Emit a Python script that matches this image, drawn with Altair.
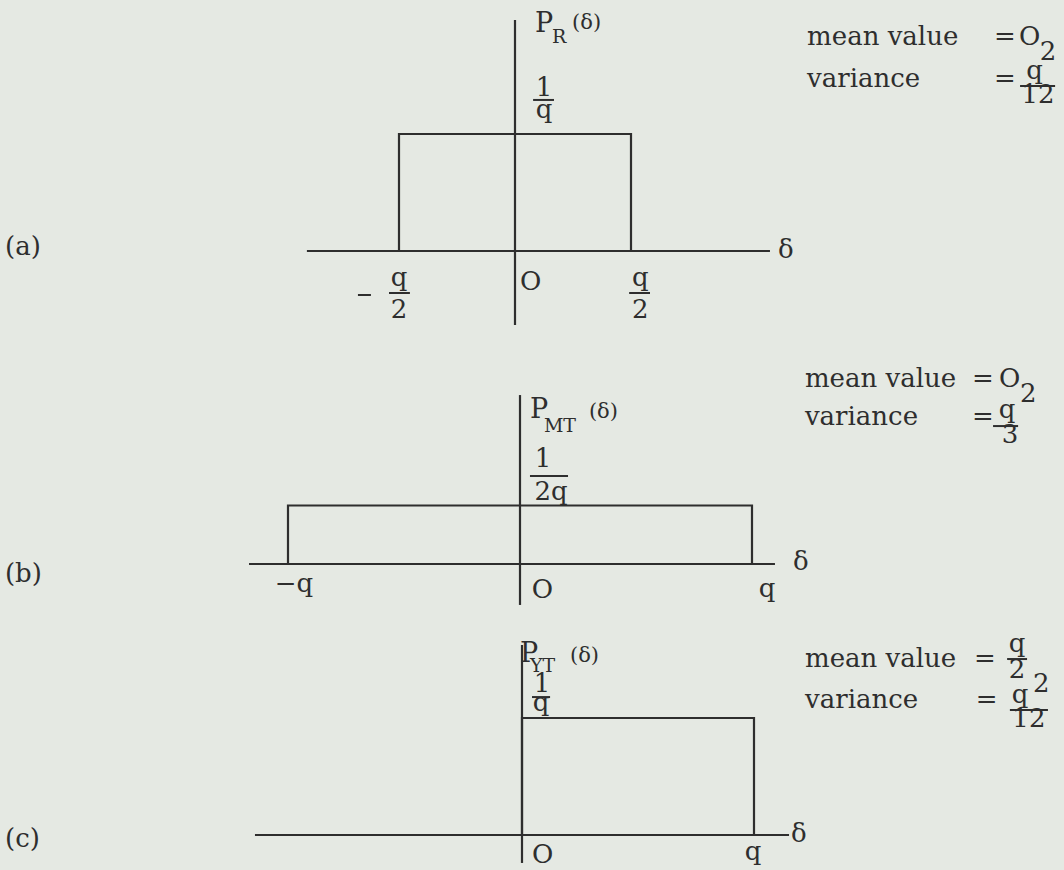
import altair as alt
import pandas as pd

# Three quantisation-error densities: rounding (R), magnitude truncation (MT)
# and value truncation (VT).  x in units of q, heights in units of 1/q.
panel_tags = ["(a)", "(b)", "(c)"]
density_names = ["R", "MT", "YT"]
support_lo = [-0.5, -1.0, 0.0]
support_hi = [0.5, 1.0, 1.0]
density_height = [1.0, 0.5, 1.0]

# tick-style labels under each horizontal axis
tick_labels_a = [("q", "2", -0.5), ("q", "2", 0.54)]
tick_labels_b = ["\u2212q", "q"]
tick_labels_c = ["q"]

# height labels beside each vertical axis
height_num = ["1", "1", "1"]
height_den = ["q", "2q", "q"]

# statistics printed to the right of each panel
mean_text = ["O", "O", None]
variance_den = ["12", "3", "12"]

INK = "#2e2e2e"
PAPER = "#e5e9e3"
FONT = "DejaVu Serif"
FS = 26          # body text size
FS_SUB = 19      # subscript size
FS_PAR = 21      # "(δ)" size

W = 1064
PX = 232.0       # pixels per q
PY = 117.0       # pixels per 1/q

# panel frame: (height, origin x in px, axis line y in px from panel top)
frames = [(345, 515, 251), (270, 520, 219), (255, 522, 220)]


def panel(idx, rules, texts):
    h, ox, oy = frames[idx]
    xs = alt.Scale(domain=[-ox / PX, (W - ox) / PX], nice=False, zero=False)
    ys = alt.Scale(domain=[-(h - oy) / PY, oy / PY], nice=False, zero=False)

    box = pd.DataFrame({
        "lo": [support_lo[idx]], "hi": [support_hi[idx]],
        "base": [0.0], "top": [density_height[idx]],
    })
    rect = alt.Chart(box).mark_rect(
        fillOpacity=0, stroke=INK, strokeWidth=2.2
    ).encode(
        x=alt.X("lo:Q", scale=xs, axis=None),
        x2="hi:Q",
        y=alt.Y("base:Q", scale=ys, axis=None),
        y2="top:Q",
    )

    rdf = pd.DataFrame(rules, columns=["x", "x2", "y", "y2", "w"])
    rule = alt.Chart(rdf).mark_rule(color=INK, strokeCap="butt").encode(
        x=alt.X("x:Q", scale=xs, axis=None),
        x2="x2:Q",
        y=alt.Y("y:Q", scale=ys, axis=None),
        y2="y2:Q",
        strokeWidth=alt.StrokeWidth("w:Q", scale=None, legend=None),
    )

    tdf = pd.DataFrame(texts, columns=["x", "y", "t", "size", "anchor"])
    layers = [rect, rule]
    for anchor in ["left", "center"]:
        sub = tdf[tdf["anchor"] == anchor]
        if len(sub) == 0:
            continue
        layers.append(
            alt.Chart(sub).mark_text(
                font=FONT, color=INK, align=anchor, baseline="alphabetic"
            ).encode(
                x=alt.X("x:Q", scale=xs, axis=None),
                y=alt.Y("y:Q", scale=ys, axis=None),
                text="t:N",
                size=alt.Size("size:Q", scale=None, legend=None),
            )
        )
    return alt.layer(*layers).properties(width=W, height=h)


# ---------- (a) rounding ----------
rules_a = [
    (0, 0, -0.632, 1.974, 2.2),           # vertical axis
    (-0.897, 1.099, 0, 0, 2.2),           # horizontal axis
    (0.078, 0.168, 1.291, 1.291, 2),      # 1/q bar
    (-0.677, -0.621, -0.376, -0.376, 2),  # minus sign
    (-0.543, -0.453, -0.359, -0.359, 2),  # -q/2 bar
    (0.492, 0.582, -0.359, -0.359, 2),    # q/2 bar
    (2.177, 2.328, 1.410, 1.410, 2),      # variance bar
]
texts_a = [
    (-2.198, -0.034, panel_tags[0], FS, "left"),
    (0.086, 1.872, "P", FS + 1, "left"),
    (0.159, 1.778, density_names[0], FS_SUB, "left"),
    (0.246, 1.900, "(δ)", FS_PAR, "left"),
    (0.125, 1.325, height_num[0], FS, "center"),
    (0.125, 1.137, height_den[0], FS, "center"),
    (0.022, -0.333, "O", FS, "left"),
    (1.134, -0.060, "δ", FS, "left"),
    (1.259, 1.761, "mean value", FS, "left"),
    (2.065, 1.761, "=", FS, "left"),
    (2.172, 1.761, mean_text[0], FS, "left"),
    (2.262, 1.632, "2", FS, "left"),
    (1.259, 1.402, "variance", FS, "left"),
    (2.065, 1.402, "=", FS, "left"),
    (2.240, 1.470, "q", FS, "center"),
    (2.254, 1.265, variance_den[0], FS, "center"),
]
for num, den, xc in tick_labels_a:
    texts_a.append((xc, -0.299, num, FS, "center"))
    texts_a.append((xc, -0.573, den, FS, "center"))

# ---------- (b) magnitude truncation ----------
rules_b = [
    (0, 0, -0.350, 1.444, 2.2),
    (-1.168, 1.099, 0, 0, 2.2),
    (0.043, 0.207, 0.752, 0.752, 2),      # 1/2q bar
    (2.039, 2.147, 1.179, 1.179, 2),      # variance bar
]
texts_b = [
    (-2.220, -0.154, panel_tags[1], FS, "left"),
    (0.043, 1.248, "P", FS + 1, "left"),
    (0.103, 1.128, density_names[1], FS_SUB, "left"),
    (0.297, 1.248, "(δ)", FS_PAR, "left"),
    (0.099, 0.830, height_num[1], FS, "center"),
    (0.134, 0.547, height_den[1], FS, "center"),
    (-0.974, -0.239, tick_labels_b[0], FS, "center"),
    (0.051, -0.291, "O", FS, "left"),
    (1.065, -0.282, tick_labels_b[1], FS, "center"),
    (1.177, -0.051, "δ", FS, "left"),
    (1.228, 1.513, "mean value", FS, "left"),
    (1.948, 1.513, "=", FS, "left"),
    (2.065, 1.513, mean_text[1], FS, "left"),
    (2.155, 1.385, "2", FS, "left"),
    (1.228, 1.188, "variance", FS, "left"),
    (1.948, 1.188, "=", FS, "left"),
    (2.100, 1.248, "q", FS, "center"),
    (2.112, 1.034, variance_den[1], FS, "center"),
]

# ---------- (c) value truncation ----------
rules_c = [
    (0, 0, -0.239, 1.624, 2.2),
    (-1.151, 1.151, 0, 0, 2.2),
    (0.043, 0.121, 1.179, 1.179, 2),      # 1/q bar
    (2.091, 2.177, 1.504, 1.504, 2),      # mean bar
    (2.103, 2.267, 1.068, 1.068, 2),      # variance bar
]
texts_c = [
    (-2.228, -0.103, panel_tags[2], FS, "left"),
    (-0.009, 1.479, "P", FS + 1, "left"),
    (0.034, 1.393, density_names[2], FS_SUB, "left"),
    (0.207, 1.479, "(δ)", FS_PAR, "left"),
    (0.086, 1.222, height_num[2], FS, "center"),
    (0.082, 1.060, height_den[2], FS, "center"),
    (0.043, -0.239, "O", FS, "left"),
    (0.996, -0.214, tick_labels_c[0], FS, "center"),
    (1.159, -0.060, "δ", FS, "left"),
    (1.220, 1.436, "mean value", FS, "left"),
    (1.948, 1.436, "=", FS, "left"),
    (2.134, 1.564, "q", FS, "center"),
    (2.134, 1.342, "2", FS, "center"),
    (2.203, 1.222, "2", FS, "left"),
    (1.220, 1.085, "variance", FS, "left"),
    (1.956, 1.085, "=", FS, "left"),
    (2.147, 1.128, "q", FS, "center"),
    (2.185, 0.923, variance_den[2], FS, "center"),
]

chart = alt.vconcat(
    panel(0, rules_a, texts_a),
    panel(1, rules_b, texts_b),
    panel(2, rules_c, texts_c),
    spacing=0,
).properties(
    padding=0, background=PAPER
).configure_view(
    stroke=None
).configure_concat(
    spacing=0
)

chart.save("out.html", embed_options={"renderer": "svg", "actions": False})
